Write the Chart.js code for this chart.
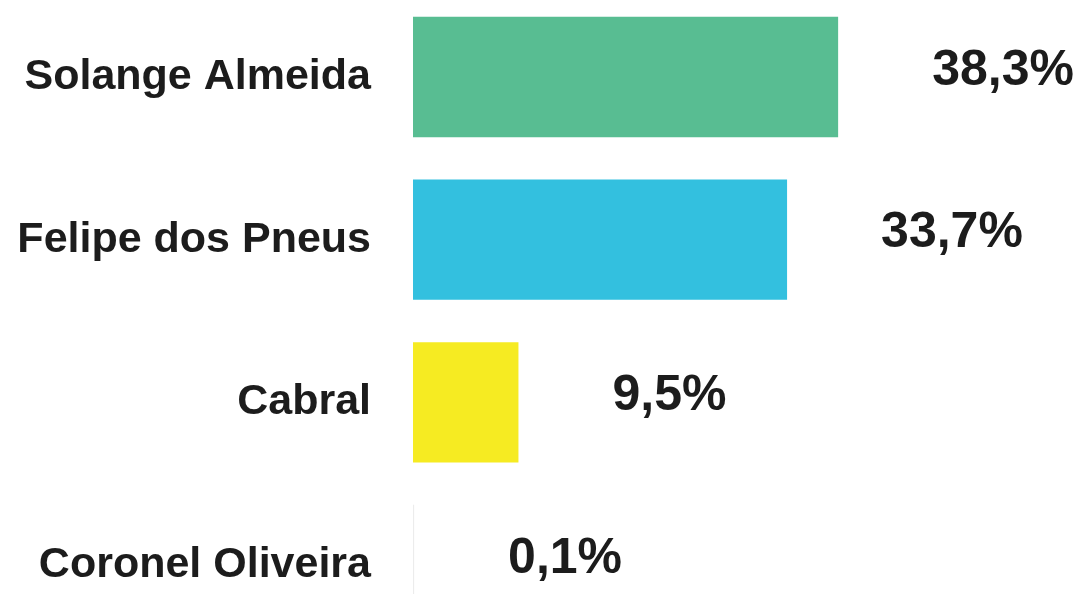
<!DOCTYPE html>
<html>
<head>
<meta charset="utf-8">
<title>Pesquisa</title>
<script src="https://cdn.jsdelivr.net/npm/chart.js@4.4.1/dist/chart.umd.min.js"></script>
<style>
  html, body { margin: 0; padding: 0; background: #ffffff; }
  #wrap { width: 1079px; height: 594px; position: relative; }
</style>
</head>
<body>
<div id="wrap"><canvas id="votesChart"></canvas></div>
<script>
const candidates = ["Solange Almeida", "Felipe dos Pneus", "Cabral", "Coronel Oliveira"];
const percentages = [38.3, 33.7, 9.5, 0.1];
const valueLabels = ["38,3%", "33,7%", "9,5%", "0,1%"];
const barColors = ["#58bd92", "#33c0df", "#f6eb22", "#ececec"];

const textColor = "#1c1c1c";

// draws the percentage text to the right of each bar
const valueLabelPlugin = {
  id: "valueLabels",
  afterDatasetsDraw(chart) {
    const ctx = chart.ctx;
    const meta = chart.getDatasetMeta(0);
    ctx.save();
    ctx.font = "bold 50px 'Liberation Sans', Arial, sans-serif";
    ctx.fillStyle = textColor;
    ctx.textAlign = "left";
    ctx.textBaseline = "middle";
    meta.data.forEach((bar, i) => {
      ctx.fillText(valueLabels[i], bar.x + 94, bar.y - 6);
    });
    ctx.restore();
  },
};

const ctx = document.getElementById("votesChart").getContext("2d");
new Chart(ctx, {
  type: "bar",
  data: {
    labels: candidates,
    datasets: [
      {
        data: percentages,
        backgroundColor: barColors,
        borderWidth: 0,
        barPercentage: 0.74,
        categoryPercentage: 1,
        clip: false,
      },
    ],
  },
  options: {
    indexAxis: "y",
    responsive: true,
    maintainAspectRatio: false,
    animation: false,
    layout: {
      padding: { top: 77, bottom: 29, left: 0, right: 0 },
    },
    plugins: {
      legend: { display: false },
      tooltip: { enabled: false },
    },
    scales: {
      x: {
        display: false,
        min: 0,
        max: 60,
      },
      y: {
        offset: false,
        grid: { display: false, drawTicks: false },
        border: { display: false },
        ticks: {
          color: textColor,
          padding: 42,
          font: { family: "'Liberation Sans', Arial, sans-serif", size: 43, weight: "bold" },
        },
        afterFit(scale) {
          scale.width = 413;
          scale.paddingTop = 0;
          scale.paddingBottom = 0;
        },
      },
    },
  },
  plugins: [valueLabelPlugin],
});
</script>
</body>
</html>
